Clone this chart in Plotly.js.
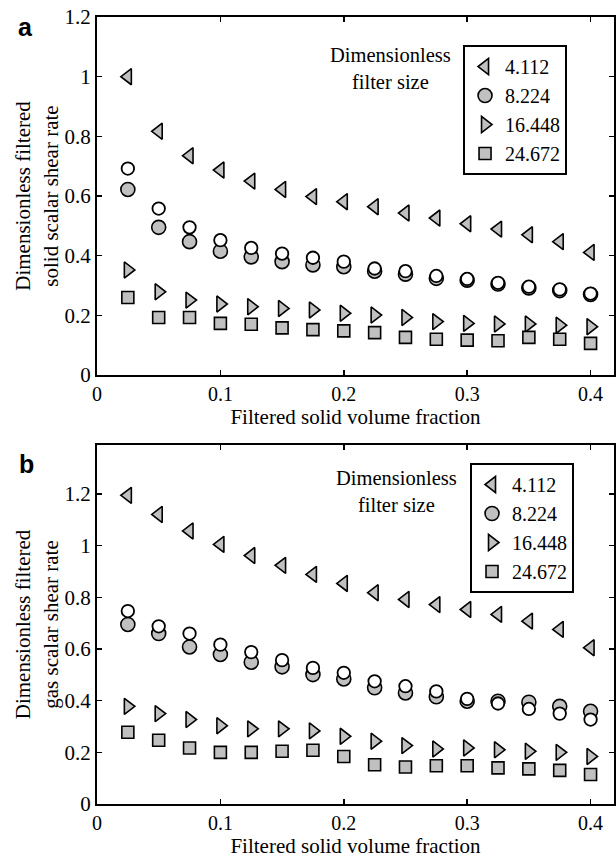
<!DOCTYPE html>
<html>
<head>
<meta charset="utf-8">
<script src="https://cdn.plot.ly/plotly-3.0.1.min.js"></script>
<style>html,body{margin:0;padding:0;background:#fff;}#chart{width:616px;height:858px;}</style>
</head>
<body>
<div id="chart"></div>
<script>
// Shared x values (filtered solid volume fraction)
var phi = [0.025, 0.05, 0.075, 0.1, 0.125, 0.15, 0.175, 0.2, 0.225, 0.25, 0.275, 0.3, 0.325, 0.35, 0.375, 0.4];
var filterSizes = ['4.112', '8.224', '16.448', '24.672'];

// Panel a: solid scalar shear rate
var aSize4 = [1.0, 0.817, 0.735, 0.687, 0.65, 0.622, 0.598, 0.581, 0.564, 0.543, 0.526, 0.507, 0.489, 0.47, 0.447, 0.411];
var aSize8 = [0.622, 0.495, 0.447, 0.415, 0.396, 0.38, 0.369, 0.363, 0.348, 0.338, 0.324, 0.318, 0.305, 0.292, 0.283, 0.27];
var aOpen = [0.692, 0.558, 0.495, 0.452, 0.426, 0.407, 0.393, 0.38, 0.357, 0.348, 0.332, 0.322, 0.309, 0.296, 0.287, 0.273];
var aSize16 = [0.352, 0.279, 0.251, 0.238, 0.229, 0.223, 0.218, 0.207, 0.201, 0.193, 0.179, 0.173, 0.171, 0.171, 0.167, 0.162];
var aSize24 = [0.26, 0.193, 0.193, 0.173, 0.17, 0.158, 0.152, 0.148, 0.142, 0.126, 0.12, 0.117, 0.115, 0.126, 0.12, 0.106];

// Panel b: gas scalar shear rate
var bSize4 = [1.195, 1.121, 1.057, 1.005, 0.962, 0.924, 0.889, 0.854, 0.818, 0.792, 0.772, 0.753, 0.734, 0.708, 0.676, 0.605];
var bSize8 = [0.695, 0.66, 0.608, 0.579, 0.549, 0.531, 0.501, 0.484, 0.45, 0.43, 0.415, 0.398, 0.398, 0.394, 0.378, 0.359];
var bOpen = [0.747, 0.688, 0.66, 0.617, 0.588, 0.557, 0.527, 0.508, 0.475, 0.456, 0.436, 0.407, 0.389, 0.368, 0.35, 0.327];
var bSize16 = [0.378, 0.35, 0.327, 0.303, 0.291, 0.291, 0.283, 0.262, 0.243, 0.226, 0.213, 0.217, 0.21, 0.204, 0.2, 0.184];
var bSize24 = [0.278, 0.247, 0.217, 0.2, 0.2, 0.204, 0.208, 0.184, 0.152, 0.143, 0.148, 0.148, 0.14, 0.136, 0.13, 0.114];

var xTickVals = [0, 0.1, 0.2, 0.3, 0.4];
var xTickText = ['0', '0.1', '0.2', '0.3', '0.4'];
var yTickVals = [0, 0.2, 0.4, 0.6, 0.8, 1.0, 1.2];
var yTickText = ['0', '0.2', '0.4', '0.6', '0.8', '1', '1.2'];

var GRAY = '#c0c0c0';
var SERIF = 'Liberation Serif';
var SANS = 'Liberation Sans';

function series(y, name, symbol, size, xa, ya, leg) {
  return {
    x: phi, y: y, name: name, type: 'scatter', mode: 'markers',
    xaxis: xa, yaxis: ya, legend: leg,
    marker: {symbol: symbol, size: size, color: GRAY, line: {color: '#000', width: 1.6}}
  };
}
function openSeries(y, xa, ya) {
  return {
    x: phi, y: y, type: 'scatter', mode: 'markers', showlegend: false,
    xaxis: xa, yaxis: ya,
    marker: {symbol: 'circle', size: 12.5, color: '#fff', line: {color: '#000', width: 1.8}}
  };
}

var data = [
  series(aSize4, filterSizes[0], 'triangle-left', 14, 'x', 'y', 'legend'),
  series(aSize8, filterSizes[1], 'circle', 14, 'x', 'y', 'legend'),
  series(aSize16, filterSizes[2], 'triangle-right', 14, 'x', 'y', 'legend'),
  series(aSize24, filterSizes[3], 'square', 12, 'x', 'y', 'legend'),
  openSeries(aOpen, 'x', 'y'),
  series(bSize4, filterSizes[0], 'triangle-left', 14, 'x2', 'y2', 'legend2'),
  series(bSize8, filterSizes[1], 'circle', 14, 'x2', 'y2', 'legend2'),
  series(bSize16, filterSizes[2], 'triangle-right', 14, 'x2', 'y2', 'legend2'),
  series(bSize24, filterSizes[3], 'square', 12, 'x2', 'y2', 'legend2'),
  openSeries(bOpen, 'x2', 'y2')
];

function xAxis(anchor) {
  return {
    anchor: anchor, range: [0, 0.419], tickvals: xTickVals, ticktext: xTickText,
    showline: true, linecolor: '#000', linewidth: 2, mirror: 'ticks',
    ticks: 'inside', ticklen: 5, tickwidth: 1.5, tickcolor: '#000',
    showgrid: false, zeroline: false,
    tickfont: {family: SERIF, size: 20, color: '#000'},
    title: {text: 'Filtered solid volume fraction', font: {family: SERIF, size: 21, color: '#000'}, standoff: 4}
  };
}
function yAxis(anchor, domain, range, title) {
  return {
    anchor: anchor, domain: domain, range: range, tickvals: yTickVals, ticktext: yTickText,
    showline: true, linecolor: '#000', linewidth: 2, mirror: 'ticks',
    ticks: 'inside', ticklen: 5, tickwidth: 1.5, tickcolor: '#000',
    showgrid: false, zeroline: false,
    tickfont: {family: SERIF, size: 21, color: '#000'},
    title: {text: title, font: {family: SERIF, size: 21, color: '#000'}}
  };
}

var legendBase = {
  xanchor: 'left', yanchor: 'top', bgcolor: '#fff', bordercolor: '#000', borderwidth: 2,
  font: {family: SERIF, size: 20, color: '#000'}, itemwidth: 30, tracegroupgap: 0
};

var layout = {
  width: 616, height: 858,
  margin: {l: 97, r: 2, t: 17, b: 54},
  paper_bgcolor: '#fff', plot_bgcolor: '#fff',
  showlegend: true,
  xaxis: xAxis('y'),
  yaxis: yAxis('x', [0.5451, 1], [0, 1.2], 'Dimensionless filtered<br>solid scalar shear rate'),
  xaxis2: xAxis('y2'),
  yaxis2: yAxis('x2', [0, 0.4562], [0, 1.39], 'Dimensionless filtered<br>gas scalar shear rate'),
  legend: Object.assign({}, legendBase, {x: 0.708, y: 0.9644}),
  legend2: Object.assign({}, legendBase, {x: 0.7215, y: 0.4333}),
  annotations: [
    {text: 'Dimensionless<br>filter size', xref: 'paper', yref: 'paper', x: 0.567, y: 0.935,
     xanchor: 'center', yanchor: 'middle',
     showarrow: false, font: {family: SERIF, size: 20.5, color: '#000'}, align: 'center'},
    {text: 'Dimensionless<br>filter size', xref: 'paper', yref: 'paper', x: 0.580, y: 0.397,
     xanchor: 'center', yanchor: 'middle',
     showarrow: false, font: {family: SERIF, size: 20.5, color: '#000'}, align: 'center'},
    {text: '<b>a</b>', xref: 'paper', yref: 'paper', x: -0.139, y: 0.987, showarrow: false,
     xanchor: 'center', yanchor: 'middle',
     font: {family: SANS, size: 25, color: '#000'}},
    {text: '<b>b</b>', xref: 'paper', yref: 'paper', x: -0.137, y: 0.432, showarrow: false,
     xanchor: 'center', yanchor: 'middle',
     font: {family: SANS, size: 25, color: '#000'}}
  ]
};

Plotly.newPlot('chart', data, layout, {displayModeBar: false, staticPlot: true});
</script>
</body>
</html>
